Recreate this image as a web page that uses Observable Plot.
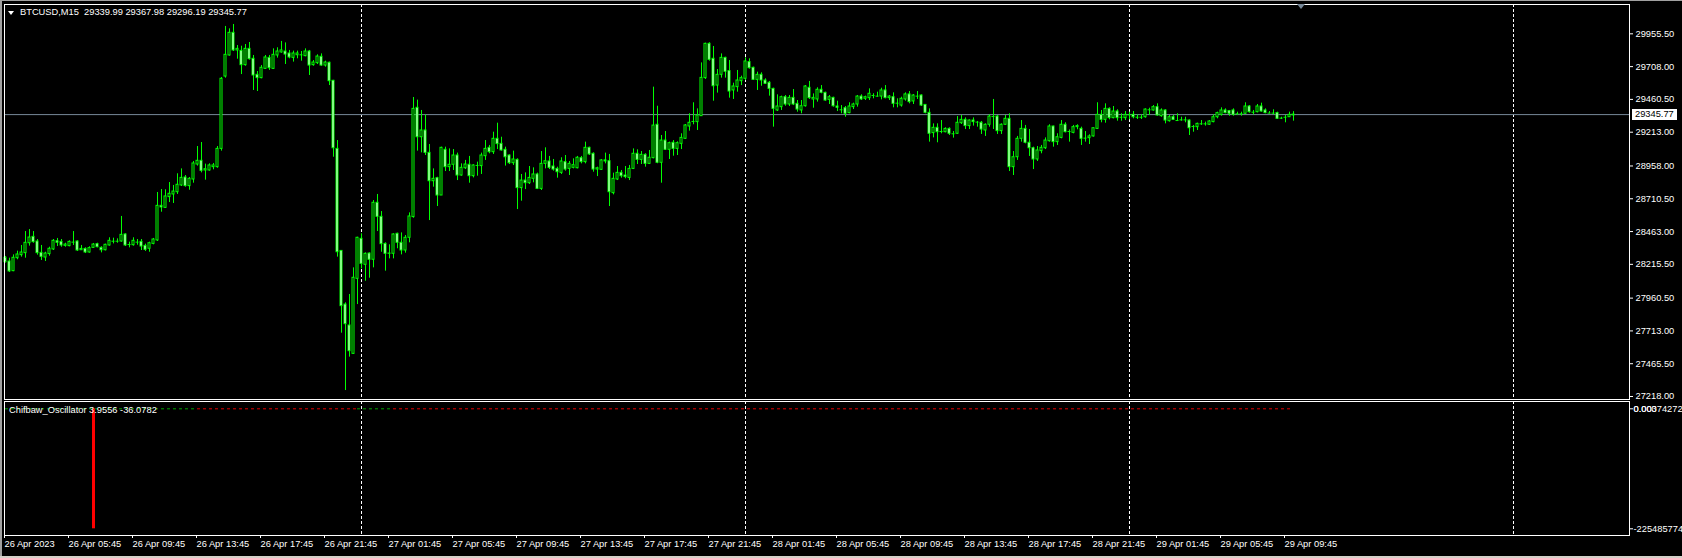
<!DOCTYPE html>
<html><head><meta charset="utf-8">
<script src="https://cdn.jsdelivr.net/npm/d3@7"></script>
<script src="https://cdn.jsdelivr.net/npm/@observablehq/plot@0.6"></script>
<style>
html,body{margin:0;padding:0;background:#000;}
body{width:1682px;height:558px;position:relative;overflow:hidden;font-family:"Liberation Sans",Arial,sans-serif;}
svg{display:block;}
.lbl{position:absolute;color:#fff;font-size:9.3px;white-space:pre;line-height:1;}
</style></head><body>
<div id="main"></div><div id="osc"></div>
<script>
// ---- DATA ----
const symbolTitle = "BTCUSD,M15";
const open = [28265,28237,28164,28262,28285,28300,28375,28423,28388,28302,
28267,28293,28328,28390,28385,28355,28353,28383,28388,28322,
28332,28305,28340,28368,28340,28322,28358,28390,28390,28388,
28441,28365,28360,28383,28385,28355,28333,28370,28396,28657,
28642,28723,28743,28760,28811,28871,28806,28856,28969,28997,
28924,28924,28949,28949,29087,29633,29792,29963,29830,29827,
29719,29842,29767,29646,29621,29691,29774,29691,29792,29815,
29822,29807,29774,29794,29797,29787,29822,29719,29734,29782,
29716,29737,29601,29087,28317,27912,27754,27540,28106,28408,
28212,28297,28250,28680,28574,28370,28295,28295,28446,28378,
28320,28416,28572,29397,29175,29226,29057,28843,28866,28735,
29080,28949,28967,29037,28886,28941,28967,28881,28962,28957,
29032,29095,29062,29163,29125,29080,29037,28979,29004,28791,
28848,28828,28861,28894,28785,28974,28992,28954,28936,28906,
28987,28936,28944,28941,29017,28987,29095,29050,28931,28929,
29000,28994,28753,28856,28906,28886,28868,28936,29050,29004,
29042,28974,29017,29269,28982,29150,29080,29133,29087,29125,
29163,29256,29294,29289,29334,29621,29880,29767,29565,29646,
29774,29674,29528,29553,29598,29616,29742,29699,29608,29646,
29603,29586,29540,29377,29402,29477,29422,29472,29427,29377,
29409,29548,29460,29460,29533,29510,29457,29472,29407,29382,
29394,29357,29402,29422,29482,29465,29470,29490,29485,29482,
29528,29470,29477,29432,29414,29460,29498,29445,29485,29490,
29419,29359,29206,29246,29218,29213,29238,29201,29201,29281,
29306,29259,29301,29289,29284,29226,29269,29331,29331,29221,
29269,29314,28949,29024,29163,29238,29133,29092,29007,29070,
29092,29145,29256,29138,29170,29269,29218,29208,29251,29238,
29168,29168,29181,29238,29344,29306,29389,29319,29369,29326,
29319,29344,29344,29326,29326,29326,29382,29377,29402,29334,
29377,29296,29326,29301,29306,29306,29301,29256,29251,29276,
29276,29269,29289,29326,29344,29377,29372,29377,29352,29352,
29352,29407,29364,29364,29407,29377,29357,29357,29357,29319,
29326,29326,29339.99];
const high = [28275,28262,28287,28315,28358,28463,28478,28463,28403,28358,
28307,28345,28403,28411,28403,28375,28393,28463,28393,28358,
28340,28348,28373,28375,28348,28368,28416,28413,28408,28577,
28446,28383,28416,28403,28403,28368,28383,28411,28758,28780,
28778,28833,28811,28899,28936,28886,28871,28992,29105,29135,
28972,28974,28977,29105,29626,30011,29993,30026,29867,29862,
29875,29890,29792,29671,29716,29792,29792,29842,29850,29898,
29887,29830,29825,29825,29822,29842,29830,29754,29797,29804,
29749,29742,29604,29150,28320,27925,27988,28189,28420,28446,
28302,28302,28697,28743,28614,28378,28363,28446,28451,28453,
28433,28604,29475,29455,29377,29344,29120,28936,28873,29100,
29100,29087,29082,29055,28974,29000,29030,28967,28987,29055,
29150,29113,29213,29281,29175,29100,29042,29070,29012,28894,
28906,28954,28944,28904,29067,29095,29030,29007,28949,29020,
29037,28992,29012,29030,29030,29138,29100,29057,28949,29007,
29055,29045,28904,28954,28924,28954,28962,29087,29080,29067,
29050,29075,29553,29409,29188,29218,29138,29150,29140,29201,
29271,29352,29435,29389,29736,29885,29888,29860,29686,29804,
29779,29754,29583,29679,29636,29774,29767,29704,29666,29661,
29616,29596,29545,29495,29485,29490,29490,29535,29452,29452,
29565,29596,29502,29548,29565,29515,29490,29477,29447,29414,
29407,29435,29432,29490,29495,29485,29540,29503,29515,29545,
29565,29490,29510,29465,29477,29510,29520,29497,29520,29495,
29422,29389,29276,29276,29301,29246,29246,29218,29331,29339,
29321,29306,29321,29294,29294,29276,29344,29460,29339,29276,
29339,29352,29067,29181,29301,29264,29233,29100,29105,29113,
29170,29269,29259,29201,29301,29284,29230,29264,29269,29251,
29218,29193,29246,29435,29377,29427,29397,29407,29382,29352,
29369,29364,29369,29344,29344,29389,29394,29414,29427,29389,
29382,29339,29339,29352,29326,29326,29306,29264,29281,29301,
29289,29301,29344,29364,29397,29389,29377,29389,29364,29364,
29435,29414,29377,29422,29432,29389,29369,29382,29364,29326,
29339,29364,29367.98];
const low = [28225,28154,28160,28250,28270,28262,28353,28375,28285,28245,
28237,28277,28320,28350,28345,28345,28348,28358,28313,28320,
28297,28300,28335,28340,28302,28317,28353,28370,28375,28383,
28350,28340,28353,28360,28320,28313,28307,28363,28388,28609,
28637,28682,28675,28743,28803,28798,28775,28828,28957,28906,
28851,28919,28929,28941,29070,29621,29787,29822,29764,29648,
29711,29757,29528,29520,29616,29686,29679,29686,29772,29809,
29724,29767,29742,29767,29749,29782,29641,29711,29724,29711,
29704,29565,29024,28270,27696,27263,27515,27535,27912,28181,
28088,28111,28189,28463,28307,28164,28257,28257,28333,28287,
28300,28378,28564,29070,29057,29037,28546,28798,28652,28735,
28916,28916,28924,28848,28881,28931,28828,28868,28881,28894,
29000,29050,29045,29082,29070,28957,28969,28962,28629,28692,
28780,28818,28831,28780,28773,28936,28931,28919,28866,28894,
28919,28886,28936,28936,28974,28974,29037,28911,28878,28924,
28974,28652,28740,28848,28866,28861,28848,28931,28969,28969,
28949,28969,29012,28975,28828,29075,29007,29032,29037,29082,
29158,29221,29269,29226,29334,29611,29749,29447,29508,29621,
29621,29470,29460,29515,29565,29603,29689,29603,29528,29560,
29573,29485,29251,29369,29377,29409,29407,29414,29364,29352,
29402,29460,29394,29440,29503,29447,29422,29402,29369,29352,
29326,29352,29384,29402,29452,29452,29452,29465,29477,29457,
29465,29452,29397,29397,29402,29447,29427,29422,29460,29407,
29352,29138,29170,29133,29201,29208,29188,29168,29196,29271,
29233,29233,29259,29251,29196,29181,29251,29233,29196,29196,
29264,28916,28886,29000,29138,29125,29030,28931,28992,29050,
29082,29138,29100,29113,29163,29208,29138,29201,29231,29113,
29138,29120,29176,29233,29284,29281,29306,29314,29296,29296,
29301,29306,29314,29309,29309,29319,29339,29372,29334,29326,
29276,29289,29301,29296,29296,29284,29188,29213,29226,29264,
29259,29264,29284,29314,29334,29352,29334,29334,29339,29334,
29347,29357,29344,29359,29364,29352,29352,29344,29309,29309,
29284,29326,29296.19];
const close = [28232,28162,28265,28290,28305,28378,28418,28383,28300,28272,
28297,28333,28393,28378,28358,28365,28385,28383,28320,28332,
28305,28338,28365,28345,28322,28363,28393,28390,28390,28438,
28358,28365,28393,28383,28350,28325,28375,28403,28657,28645,
28728,28748,28765,28816,28868,28806,28861,28977,28997,28921,
28934,28962,28962,29087,29616,29797,29963,29830,29842,29719,
29842,29764,29641,29621,29699,29777,29696,29797,29822,29830,
29799,29777,29807,29807,29797,29822,29716,29739,29784,29716,
29739,29598,29092,28307,27900,27764,27560,28114,28416,28219,
28295,28250,28680,28574,28368,28295,28297,28441,28378,28320,
28416,28577,29389,29175,29226,29057,28843,28861,28735,29095,
28949,28967,29037,28886,28944,28969,28881,28962,28962,29037,
29087,29062,29163,29123,29075,29024,28979,29007,28791,28848,
28828,28868,28894,28785,28974,28994,28944,28931,28911,28992,
28931,28974,28964,29020,28987,29095,29045,28931,28941,29000,
28992,28760,28861,28906,28881,28874,28936,29050,29004,29042,
28974,29020,29263,28982,29150,29080,29130,29087,29130,29170,
29264,29284,29294,29339,29623,29880,29759,29560,29646,29774,
29669,29520,29558,29603,29621,29747,29696,29608,29646,29603,
29578,29540,29389,29407,29477,29422,29472,29422,29384,29409,
29558,29470,29472,29533,29510,29452,29477,29409,29397,29382,
29352,29407,29422,29482,29460,29477,29503,29490,29485,29528,
29470,29482,29427,29432,29465,29498,29440,29490,29485,29414,
29359,29201,29246,29213,29218,29238,29201,29201,29284,29306,
29259,29301,29289,29289,29233,29269,29331,29331,29221,29269,
29314,28949,29024,29163,29238,29133,29092,29007,29075,29095,
29150,29256,29138,29175,29269,29213,29218,29251,29259,29163,
29168,29181,29243,29344,29306,29389,29319,29369,29319,29326,
29344,29344,29326,29326,29326,29384,29382,29402,29339,29377,
29301,29326,29306,29301,29306,29306,29243,29256,29276,29276,
29276,29294,29326,29357,29377,29357,29352,29344,29352,29352,
29407,29364,29364,29407,29369,29357,29357,29357,29314,29319,
29326,29344,29345.77];

const timeLabels = ["26 Apr 2023","26 Apr 05:45","26 Apr 09:45","26 Apr 13:45","26 Apr 17:45","26 Apr 21:45",
"27 Apr 01:45","27 Apr 05:45","27 Apr 09:45","27 Apr 13:45","27 Apr 17:45","27 Apr 21:45",
"28 Apr 01:45","28 Apr 05:45","28 Apr 09:45","28 Apr 13:45","28 Apr 17:45","28 Apr 21:45",
"29 Apr 01:45","29 Apr 05:45","29 Apr 09:45"];
const timeTickBars = [0,16,32,48,64,80,96,112,128,144,160,176,192,208,224,240,256,272,288,304,320];
const priceTicks = [29955.50,29708.00,29460.50,29213.00,28958.00,28710.50,28463.00,28215.50,27960.50,27713.00,27465.50,27218.00];
const daySeparatorBars = [89,185,281,377];
const bidPrice = 29345.77;

const oscName = "Chifbaw_Oscillator";
const oscReadings = ["3.9556","-36.0782"];
const oscSpikeBar = 22;
const oscSpikeValue = -225485774;
const oscAxisTop = "0.003742729";
const oscAxisTopZero = "0.000";
const oscLevelGreen = [[0,48],[88,97]];
const oscLevelRed = [[48,88],[97,322]];

// ---- BUILD ----
const bars = open.map((o,i)=>({i, open:o, high:high[i], low:low[i], close:close[i]}));
const LIME = "#00ff00";
const font = '"Liberation Sans", Arial, sans-serif';
const xScale = {type:"linear", domain:[-0.25, 406], axis:null};
const styleBase = {background:"#000", color:"#fff", fontFamily:font, fontSize:"9.3px"};

const main = Plot.plot({
  width:1682, height:401, marginLeft:4, marginRight:53, marginTop:4, marginBottom:2,
  style:styleBase,
  x:xScale,
  y:{domain:[27195.36, 30176.82], axis:null},
  marks:[
    Plot.ruleX(daySeparatorBars, {x:d=>d, stroke:"#fff", strokeDasharray:"3,2"}),
    Plot.ruleY([bidPrice], {y:d=>d, stroke:"#778899"}),
    Plot.ruleX(bars, {x:"i", y1:"low", y2:"high", stroke:LIME}),
    Plot.rect(bars.filter(d=>d.close>d.open), {x1:d=>d.i-0.25, x2:d=>d.i+0.25, y1:"open", y2:"close", fill:"#000", stroke:LIME}),
    Plot.rect(bars.filter(d=>d.close<d.open), {x1:d=>d.i-0.25, x2:d=>d.i+0.25, y1:"open", y2:"close", fill:"#fff", stroke:LIME}),
    Plot.ruleY(bars.filter(d=>d.close===d.open), {x1:d=>d.i-0.375, x2:d=>d.i+0.375, y:"open", stroke:LIME}),
    Plot.axisY(priceTicks, {anchor:"right", tickSize:3, tickPadding:3, tickFormat:d=>d.toFixed(2), stroke:"#fff", fill:"#fff", label:null}),
    Plot.frame({stroke:"#fff"})
  ]
});
document.getElementById("main").appendChild(main);

const segs = (arr)=>arr.map(([a,b])=>({a,b}));
const osc = Plot.plot({
  width:1682, height:157, marginLeft:4, marginRight:53, marginTop:0, marginBottom:23,
  style:styleBase,
  x:xScale,
  y:{domain:[-238.07e6, 13.72e6], axis:null},
  marks:[
    Plot.ruleX(daySeparatorBars, {x:d=>d, stroke:"#fff", strokeDasharray:"3,2"}),
    Plot.ruleY(segs(oscLevelGreen), {x1:"a", x2:"b", y:0, stroke:"#00a000", strokeDasharray:"3,3"}),
    Plot.ruleY(segs(oscLevelRed), {x1:"a", x2:"b", y:0, stroke:"#e00000", strokeDasharray:"3,3"}),
    Plot.ruleX([oscSpikeBar], {x:d=>d, y1:0, y2:oscSpikeValue, stroke:"#ff0000", strokeWidth:3}),
    Plot.axisX(timeTickBars, {anchor:"bottom", tickSize:3, tickPadding:2, textAnchor:"start", dx:-1,
      tickFormat:d=>timeLabels[timeTickBars.indexOf(d)], stroke:"#fff", fill:"#fff", label:null}),
    Plot.axisY([0.003742729, oscSpikeValue], {anchor:"right", tickSize:3, tickPadding:1,
      tickFormat:d=>d===oscSpikeValue?String(oscSpikeValue):oscAxisTop, stroke:"#fff", fill:"#fff", label:null}),
    Plot.text([oscAxisTopZero], {text:d=>d, x:406, y:0, dx:4, textAnchor:"start", fill:"#fff"}),
    Plot.frame({stroke:"#fff"})
  ]
});
document.getElementById("osc").appendChild(osc);

// text overlays
function addLbl(text, left, top, extra){
  const d = document.createElement("div");
  d.className = "lbl"; d.textContent = text;
  d.style.left = left+"px"; d.style.top = top+"px";
  if (extra) Object.assign(d.style, extra);
  document.body.appendChild(d);
  return d;
}
addLbl(symbolTitle + "  " + [open[322].toFixed(2), high[322].toFixed(2), low[322].toFixed(2), close[322].toFixed(2)].join(" "), 20, 8);
const tri = document.createElement("div");
Object.assign(tri.style,{position:"absolute",left:"8px",top:"11px",width:"0",height:"0",borderLeft:"3px solid transparent",borderRight:"3px solid transparent",borderTop:"4px solid #fff"});
document.body.appendChild(tri);
addLbl(oscName + " " + oscReadings.join(" "), 9, 405.5);
const by = main.scale("y").apply(bidPrice);
addLbl(bidPrice.toFixed(2), 1632, by-5.5, {background:"#fff", color:"#000", width:"42px", height:"11px", lineHeight:"11px", paddingLeft:"3px"});
const shift = document.createElement("div");
Object.assign(shift.style,{position:"absolute",left:"1297px",top:"4px",width:"0",height:"0",borderLeft:"4px solid transparent",borderRight:"4px solid transparent",borderTop:"5px solid #778899"});
document.body.appendChild(shift);
// window borders
[[0,0,1682,1,"#a0a0a0"],[0,0,2,558,"#a0a0a0"],[0,556,1682,2,"#d4d0c8"]].forEach(([l,t,w,h,c])=>{
  const b=document.createElement("div");
  Object.assign(b.style,{position:"absolute",left:l+"px",top:t+"px",width:w+"px",height:h+"px",background:c});
  document.body.appendChild(b);
});
</script>
</body></html>
